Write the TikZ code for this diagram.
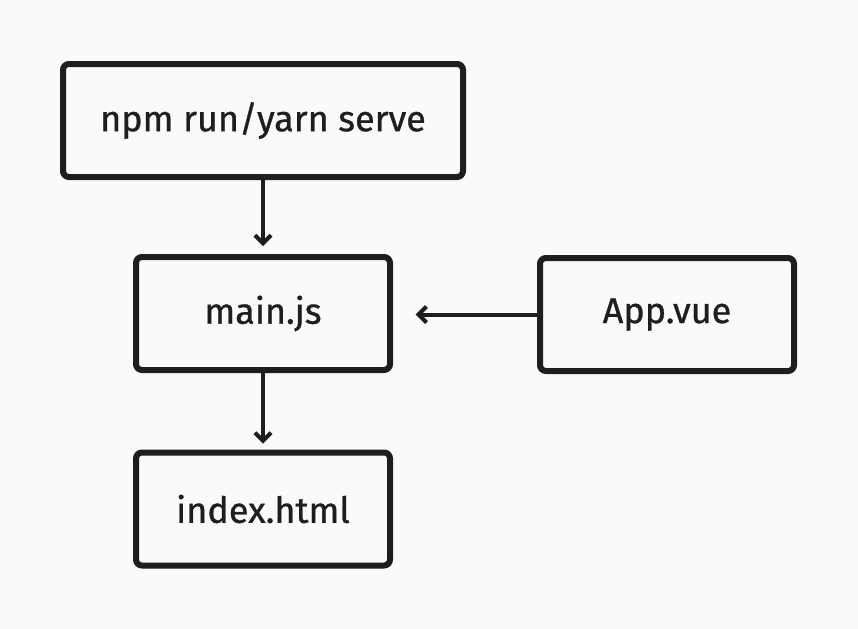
\documentclass[tikz,border=0pt]{standalone}
\usepackage{fontspec}
\setmainfont{Fira Sans}
\newfontfamily\boxfont{Fira Sans}[FakeBold=0.8]
\usetikzlibrary{arrows.meta}

\tikzset{every picture/.style={line width=0.75pt}}
\tikzset{
  filebox/.style={draw, color={rgb,255:red,30;green,30;blue,30}, line width=4.5pt, rounded corners=4.5pt,
    minimum height=84.75pt, font=\boxfont\fontsize{27}{32}\selectfont},
  flow/.style={draw, color={rgb,255:red,30;green,30;blue,30}, line width=3pt, -{Straight Barb[length=6pt,width=12pt,line width=3pt]}}
}

\begin{document}
\begin{tikzpicture}[x=0.75pt,y=0.75pt,yscale=-1,xscale=1]
%background, sets the size of the picture
\fill [color={rgb, 255:red, 249; green, 250; blue, 251 }] (0,0) rectangle (858,629);
\useasboundingbox (0,0) rectangle (858,629);

\node [filebox, minimum width=300pt] (npm) at (263,120.5) {npm run/yarn serve};
\node [filebox, minimum width=190.5pt] (mainjs) at (263,313.5) {main.js};
\node [filebox, minimum width=190.5pt] (appvue) at (667,314.5) {App.vue};
\node [filebox, minimum width=190.5pt] (indexhtml) at (263,509) {index.html};

\draw [flow, shorten >=6pt] (npm) -- (mainjs);
\draw [flow, shorten >=4.5pt] (mainjs) -- (indexhtml);
\draw [flow, shorten >=17pt] (appvue.west) -- (mainjs.east |- appvue.west);

\end{tikzpicture}
\end{document}
